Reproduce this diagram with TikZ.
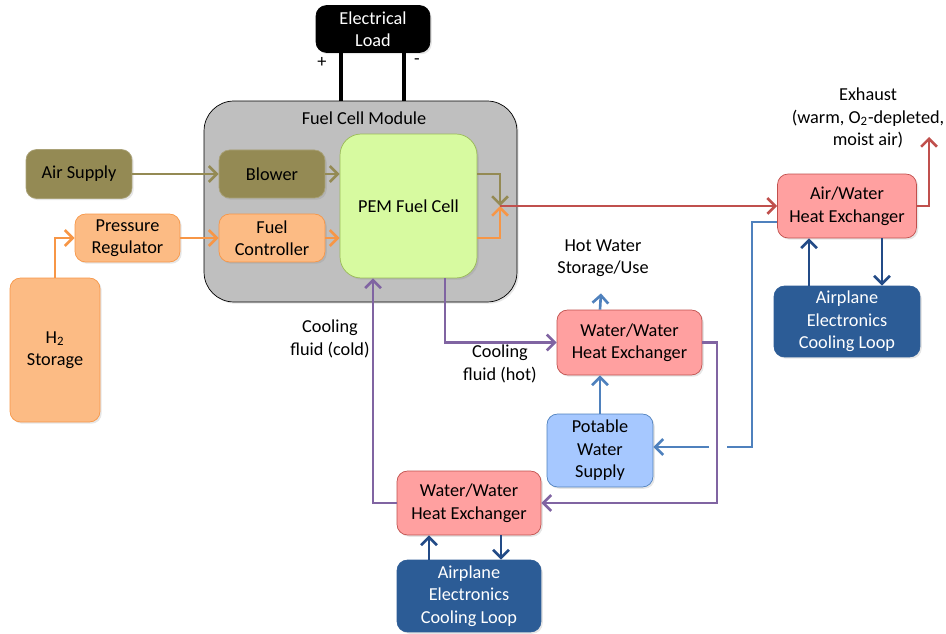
\documentclass[tikz,border=0pt]{standalone}
\usepackage{fontspec}
\setmainfont{Carlito}
\usetikzlibrary{positioning}
\usetikzlibrary{arrows.meta}
\usetikzlibrary{shadows}

\definecolor{olivefill}{RGB}{148,138,84}
\definecolor{orangefill}{RGB}{252,187,132}
\definecolor{orangeline}{RGB}{247,150,70}
\definecolor{pemfill}{RGB}{215,250,160}
\definecolor{pemline}{RGB}{155,187,89}
\definecolor{pinkfill}{RGB}{255,160,160}
\definecolor{redline}{RGB}{192,80,77}
\definecolor{skyfill}{RGB}{166,200,255}
\definecolor{blueline}{RGB}{79,129,189}
\definecolor{navyfill}{RGB}{44,92,150}
\definecolor{navyline}{RGB}{35,75,135}
\definecolor{purpleline}{RGB}{128,100,162}
\definecolor{modulefill}{RGB}{191,191,191}

\begin{document}
\begin{tikzpicture}[x=0.02cm, y=-0.02cm, >={Straight Barb[length=4.5pt,width=9pt]},
    every node/.style={font=\fontsize{10.4}{12.8}\selectfont},
    box/.style={draw, rounded corners=6pt, align=center, inner sep=0pt,
        drop shadow={opacity=0.2, shadow xshift=1pt, shadow yshift=-1pt}},
    flow/.style={line width=1.5pt},
    wire/.style={line width=1.8pt}]

\useasboundingbox (0,0) rectangle (946,634);

% Fuel cell module and load
\node[draw, fill=modulefill, rounded corners=17pt, minimum width=6.26cm, minimum height=4.02cm,
    drop shadow={opacity=0.2, shadow xshift=1pt, shadow yshift=-1pt}] (module) at (360.5,201.5) {};
\node (moduletitle) at (364,118) {Fuel Cell Module};
\node[box, fill=black, text=white, minimum width=2.28cm, minimum height=0.94cm] (load) at (373,29) {Electrical\\Load};

% Supply side
\node[box, fill=olivefill, draw=olivefill!80!white, minimum width=2.12cm, minimum height=0.98cm] (air) at (79,174) {Air Supply};
\node[box, fill=olivefill, draw=olivefill!80!white, minimum width=2.12cm, minimum height=0.96cm] (blower) at (272,174) {Blower};
\node[box, fill=orangefill, draw=orangeline, minimum width=2.1cm, minimum height=0.96cm] (preg) at (127.5,238) {Pressure\\Regulator};
\node[box, fill=orangefill, draw=orangeline, minimum width=2.12cm, minimum height=0.96cm] (fuelc) at (272,238) {Fuel\\Controller};
\node[box, fill=orangefill, draw=orangeline, minimum width=1.8cm, minimum height=2.88cm] (h2) at (55,350) {H\textsubscript{2}\\Storage};
\node[box, fill=pemfill, draw=pemline, rounded corners=12pt, minimum width=2.74cm, minimum height=2.88cm] (pem) at (408.5,206) {PEM Fuel Cell};

% Heat exchangers
\node[box, fill=pinkfill, draw=redline, minimum width=2.78cm, minimum height=1.28cm] (awhx) at (847,206) {Air/Water\\Heat Exchanger};
\node[box, fill=navyfill, draw=navyfill, text=white, minimum width=2.92cm, minimum height=1.42cm] (loopR) at (847,321.5) {Airplane\\Electronics\\Cooling Loop};
\node[box, fill=pinkfill, draw=redline, minimum width=2.9cm, minimum height=1.3cm] (wwhx1) at (629.5,342.5) {Water/Water\\Heat Exchanger};
\node[box, fill=skyfill, draw=blueline, minimum width=2.12cm, minimum height=1.46cm] (potable) at (600,450.5) {Potable\\Water\\Supply};
\node[box, fill=pinkfill, draw=redline, minimum width=2.88cm, minimum height=1.28cm] (wwhx2) at (469,503) {Water/Water\\Heat Exchanger};
\node[box, fill=navyfill, draw=navyfill, text=white, minimum width=2.88cm, minimum height=1.44cm] (loopB) at (469,596) {Airplane\\Electronics\\Cooling Loop};

% Free labels
\node[align=center] (exhaust) at (868,118) {Exhaust\\(warm, O\textsubscript{2}-depleted,\\moist air)};
\node[align=center] (hotw) at (603,258) {Hot Water\\Storage/Use};
\node[align=center] (coldl) at (330,339) {Cooling\\fluid (cold)};
\node[align=center] (hotl) at (500,364) {Cooling\\fluid (hot)};
\node (plusl) at (322,62) {+};
\node (minusl) at (417,62) {-};

% Helper points
\coordinate (plus) at ([xshift=-0.64cm]load.south);
\coordinate (minus) at ([xshift=0.62cm]load.south);
\coordinate (mix) at (500,206);
\coordinate (exh) at (929,137);
\coordinate (bluebend) at (752,447);
\coordinate (hopR) at (727,447);
\coordinate (hopL) at (709,447);
\coordinate (purpR) at (717,503);

% Electrical connections
\draw[wire] (plus) -- (plus |- module.north);
\draw[wire] (minus) -- (minus |- module.north);

% Air and hydrogen
\draw[flow, olivefill, ->] (air) -- (blower);
\draw[flow, olivefill, ->] (blower) -- (pem.west |- blower);
\draw[flow, orangeline, ->] (h2.north) |- (preg.west);
\draw[flow, orangeline, ->] (preg) -- (fuelc);
\draw[flow, orangeline, ->] (fuelc) -- (pem.west |- fuelc);
\draw[flow, olivefill, ->] (pem.east |- blower) -| (mix);
\draw[flow, orangeline, ->] (pem.east |- fuelc) -| (mix);
\draw[flow, redline, ->] (mix) -- (awhx.west |- mix);
\draw[flow, redline, ->] (awhx.east) -| (exh);

% Water loops
\draw[flow, blueline] ([yshift=-0.32cm]awhx.west) -| (bluebend) -- (hopR);
\draw[flow, blueline, ->] (hopL) -- (potable.east |- hopL);
\draw[flow, blueline, ->] (potable) -- (potable |- wwhx1.south);
\draw[flow, blueline, ->, shorten >=6pt] (potable |- wwhx1.north) -- (hotw);
\draw[flow, purpleline, ->] ([xshift=0.73cm]pem.south) |- (wwhx1.west);
\draw[flow, purpleline, ->] (wwhx1.east) -| (purpR) -- (wwhx2.east);
\draw[flow, purpleline, ->] (wwhx2.west) -| ([xshift=-0.71cm]pem.south);

% Electronics cooling loops
\draw[flow, navyline, ->] ([xshift=-0.76cm]loopR.north) -- ([xshift=-0.76cm]awhx.south);
\draw[flow, navyline, ->] ([xshift=0.7cm]awhx.south) -- ([xshift=0.7cm]loopR.north);
\draw[flow, navyline, ->] ([xshift=-0.8cm]loopB.north) -- ([xshift=-0.8cm]wwhx2.south);
\draw[flow, navyline, ->] ([xshift=0.64cm]wwhx2.south) -- ([xshift=0.64cm]loopB.north);

\end{tikzpicture}
\end{document}
